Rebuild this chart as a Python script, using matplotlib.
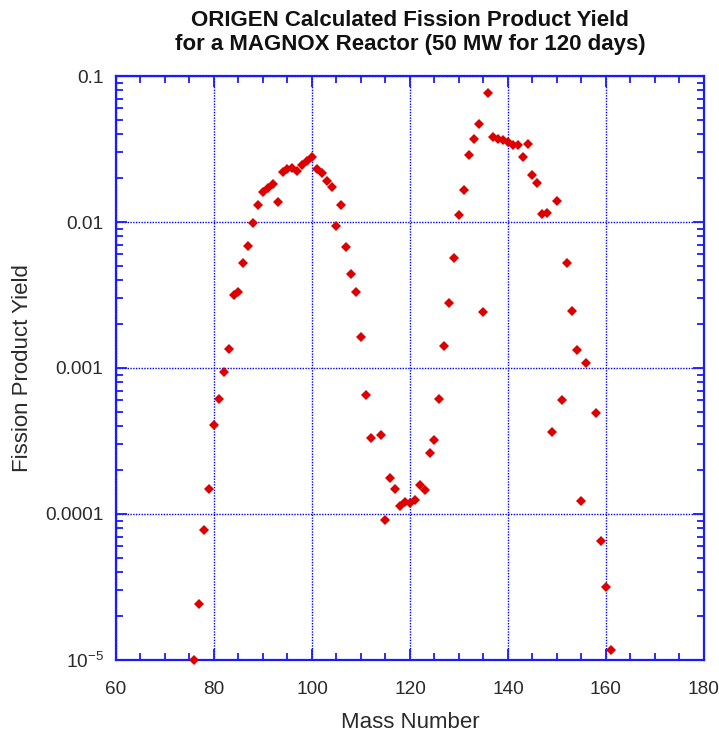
import matplotlib
matplotlib.use("Agg")
import matplotlib.pyplot as plt
from matplotlib.ticker import FixedLocator, LogLocator, NullFormatter, MultipleLocator

plt.rcParams['font.family'] = ['Liberation Sans', 'DejaVu Sans']
plt.rcParams['mathtext.default'] = 'regular'

mass_number = [76, 77, 78, 79, 80, 81, 82, 83, 84, 85, 86, 87, 88, 89, 90, 91, 92, 93,
               94, 95, 96, 97, 98, 99, 100, 101, 102, 103, 104, 105, 106, 107, 108, 109,
               110, 111, 112, 114, 115, 116, 117, 118, 119, 120, 121, 122, 123, 124, 125,
               126, 127, 128, 129, 130, 131, 132, 133, 134, 135, 136, 137, 138, 139, 140,
               141, 142, 143, 144, 145, 146, 147, 148, 149, 150, 151, 152, 153, 154, 155,
               156, 158, 159, 160, 161]
yield_values = [1.0e-5, 2.4e-5, 7.8e-5, 1.48e-4, 4.1e-4, 6.1e-4, 9.4e-4, 1.36e-3, 3.16e-3,
                3.3e-3, 5.2e-3, 6.9e-3, 9.8e-3, 1.3e-2, 1.6e-2, 1.72e-2, 1.83e-2, 1.38e-2,
                2.19e-2, 2.31e-2, 2.35e-2, 2.25e-2, 2.44e-2, 2.61e-2, 2.81e-2, 2.29e-2,
                2.17e-2, 1.9e-2, 1.75e-2, 9.4e-3, 1.31e-2, 6.75e-3, 4.38e-3, 3.31e-3,
                1.62e-3, 6.5e-4, 3.33e-4, 3.5e-4, 9.05e-5, 1.76e-4, 1.48e-4, 1.13e-4,
                1.2e-4, 1.18e-4, 1.24e-4, 1.58e-4, 1.47e-4, 2.61e-4, 3.21e-4, 6.15e-4,
                1.42e-3, 2.77e-3, 5.68e-3, 1.11e-2, 1.67e-2, 2.86e-2, 3.68e-2, 4.67e-2,
                2.4e-3, 7.63e-2, 3.84e-2, 3.72e-2, 3.63e-2, 3.53e-2, 3.39e-2, 3.35e-2,
                2.78e-2, 3.45e-2, 2.11e-2, 1.85e-2, 1.14e-2, 1.16e-2, 3.62e-4, 1.4e-2,
                6.08e-4, 5.27e-3, 2.47e-3, 1.32e-3, 1.22e-4, 1.09e-3, 4.93e-4, 6.58e-5,
                3.16e-5, 1.17e-5]

x_ticks = [60, 80, 100, 120, 140, 160, 180]
y_ticks = [1e-5, 1e-4, 1e-3, 1e-2, 1e-1]
y_tick_labels = [r'$10^{-5}$', '0.0001', '0.001', '0.01', '0.1']

title = "ORIGEN Calculated Fission Product Yield\nfor a MAGNOX Reactor (50 MW for 120 days)"

blue = '#1a1aff'
fig = plt.figure(figsize=(7.19, 7.36), dpi=100)
ax = fig.add_axes([0.1613, 0.1033, 0.8177, 0.7934])

ax.plot(mass_number, yield_values, linestyle='none', marker='D', markersize=5.4,
        color='#dd0000', markeredgewidth=0, clip_on=False, zorder=5)

ax.set_yscale('log')
ax.set_xlim(60, 180)
ax.set_ylim(1e-5, 0.1)

ax.xaxis.set_major_locator(FixedLocator(x_ticks))
ax.xaxis.set_minor_locator(MultipleLocator(5))
ax.yaxis.set_major_locator(FixedLocator(y_ticks))
ax.yaxis.set_minor_locator(LogLocator(base=10, subs=range(2, 10)))
ax.yaxis.set_minor_formatter(NullFormatter())
ax.set_yticklabels(y_tick_labels)
ax.set_xticklabels([str(v) for v in x_ticks])

ax.grid(True, which='major', color='#0000ff', linestyle=(0, (1, 1)), linewidth=1.0)
for s in ax.spines.values():
    s.set_color(blue)
    s.set_linewidth(1.6)

ax.tick_params(which='both', direction='in', top=True, right=True, color=blue,
               labelcolor='#2a2a2a', labelsize=13.7, width=1.3)
ax.tick_params(which='major', length=8)
ax.tick_params(which='minor', length=5)
ax.tick_params(axis='y', which='major', pad=9)
ax.tick_params(axis='x', which='major', pad=15)

ax.set_xlabel('Mass Number', fontsize=16, color='#2a2a2a', labelpad=10)
ax.set_ylabel('Fission Product Yield', fontsize=16, color='#2a2a2a', labelpad=9)
ax.set_title(title, fontsize=16, fontweight='bold', color='#111111', pad=19,
             linespacing=1.15)

fig.savefig('out.png', dpi=100, facecolor='white')
